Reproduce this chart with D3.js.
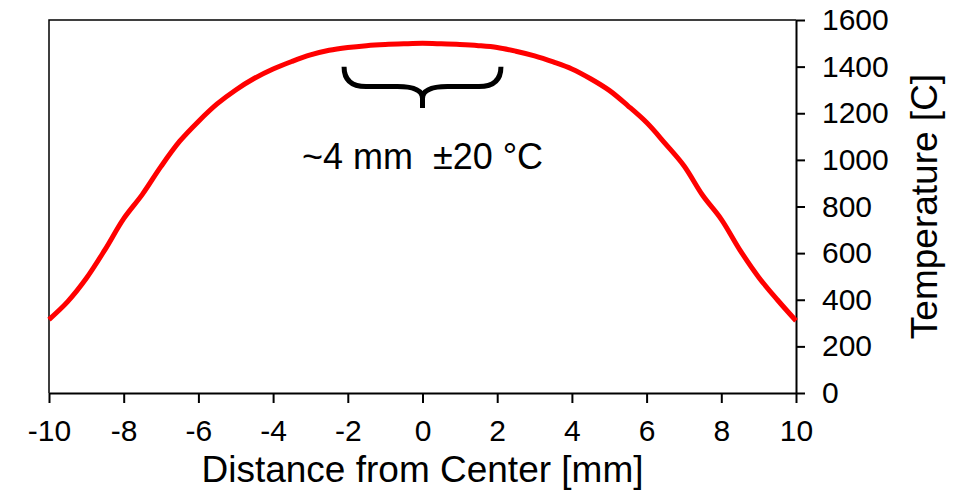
<!DOCTYPE html>
<html>
<head>
<meta charset="utf-8">
<script src="https://cdn.jsdelivr.net/npm/d3@7"></script>
<style>
  body { margin: 0; background: #fff; }
  svg text { font-family: "Liberation Sans", Arial, sans-serif; fill: #000; }
</style>
</head>
<body>
<div id="chart"></div>
<script>
// distance from center (mm) and temperature (C)
var distance = [-10, -9.5, -9, -8.5, -8, -7.5, -7, -6.5, -6, -5.5, -5, -4.5, -4, -3.5, -3, -2.5, -2, -1.5, -1, -0.5,
                0, 0.5, 1, 1.5, 2, 2.5, 3, 3.5, 4, 4.5, 5, 5.5, 6, 6.5, 7, 7.5, 8, 8.5, 9, 9.5, 10];
var temperature = [315, 392, 492, 615, 748, 852, 972, 1080, 1165, 1240, 1300, 1350, 1390, 1422, 1450, 1470, 1482, 1490, 1495, 1498,
                   1500, 1498, 1495, 1490, 1482, 1466, 1446, 1420, 1390, 1348, 1298, 1232, 1160, 1070, 975, 848, 745, 613, 497, 400, 310];

var xTicks = [-10, -8, -6, -4, -2, 0, 2, 4, 6, 8, 10];
var yTicks = [0, 200, 400, 600, 800, 1000, 1200, 1400, 1600];

// annotation: brace over the flat top, and its label
var braceSpan = [-2.1, 2.1];
var braceLevels = [1400, 1315, 1222];   // ends, bar, tip
var noteText = "~4 mm  \u00b120 \u00b0C";
var noteAt = [0, 961];

var width = 967, height = 500;
var plotLeft = 49, plotRight = 796, plotTop = 20, plotBottom = 393;

var svg = d3.select("#chart").append("svg")
    .attr("width", width)
    .attr("height", height);

var x = d3.scaleLinear().domain([-10, 10]).range([plotLeft, plotRight]);
var y = d3.scaleLinear().domain([0, 1600]).range([plotBottom, plotTop]);

// thin frame on top and left
svg.append("path")
    .attr("d", "M" + plotLeft + "," + plotBottom + "V" + plotTop + "H" + plotRight)
    .attr("fill", "none")
    .attr("stroke", "#000")
    .attr("stroke-width", 1.5);

// x axis
var gx = svg.append("g")
    .attr("transform", "translate(0," + plotBottom + ")")
    .call(d3.axisBottom(x).tickValues(xTicks).tickSizeInner(10).tickSizeOuter(0).tickPadding(17)
        .tickFormat(function(d) { return d < 0 ? "-" + Math.abs(d) : d; }));
gx.attr("font-size", null).attr("font-family", null);
gx.select(".domain").attr("stroke-width", 2);
gx.selectAll(".tick line").attr("stroke-width", 2);
gx.selectAll(".tick text").style("font-size", "30px").attr("dy", "0.71em");

// y axis on the right
var gy = svg.append("g")
    .attr("transform", "translate(" + plotRight + ",0)")
    .call(d3.axisRight(y).tickValues(yTicks).tickSizeInner(9).tickSizeOuter(0).tickPadding(17)
        .tickFormat(d3.format("d")));
gy.attr("font-size", null).attr("font-family", null);
gy.select(".domain").attr("stroke-width", 2);
gy.selectAll(".tick line").attr("stroke-width", 2);
gy.selectAll(".tick text").style("font-size", "30px");

// axis titles
svg.append("text")
    .attr("x", (plotLeft + plotRight) / 2)
    .attr("y", 482)
    .attr("text-anchor", "middle")
    .style("font-size", "37px")
    .text("Distance from Center [mm]");

svg.append("text")
    .attr("transform", "translate(937," + ((plotTop + plotBottom) / 2) + ") rotate(-90)")
    .attr("text-anchor", "middle")
    .style("font-size", "37px")
    .text("Temperature [C]");

// the temperature profile
var line = d3.line()
    .x(function(d, i) { return x(distance[i]); })
    .y(function(d) { return y(d); })
    .curve(d3.curveCatmullRom);

svg.append("path")
    .datum(temperature)
    .attr("d", line)
    .attr("fill", "none")
    .attr("stroke", "#ff0000")
    .attr("stroke-width", 5)
    .attr("stroke-linejoin", "round");

// curly brace
var bx0 = x(braceSpan[0]), bx1 = x(braceSpan[1]), bc = x(0);
var yEnd = y(braceLevels[0]), yBar = y(braceLevels[1]), yTip = y(braceLevels[2]);
var r = 22, rc = 25, yJoin = yBar + 12;
var brace = "M" + bx0 + "," + yEnd +
    "Q" + bx0 + "," + yBar + " " + (bx0 + r) + "," + yBar +
    "L" + (bc - rc) + "," + yBar +
    "Q" + bc + "," + yBar + " " + bc + "," + yJoin +
    "L" + bc + "," + yTip +
    "M" + bx1 + "," + yEnd +
    "Q" + bx1 + "," + yBar + " " + (bx1 - r) + "," + yBar +
    "L" + (bc + rc) + "," + yBar +
    "Q" + bc + "," + yBar + " " + bc + "," + yJoin;
svg.append("path")
    .attr("d", brace)
    .attr("fill", "none")
    .attr("stroke", "#000")
    .attr("stroke-width", 5);

svg.append("text")
    .attr("x", x(noteAt[0]))
    .attr("y", y(noteAt[1]))
    .attr("text-anchor", "middle")
    .style("font-size", "36px")
    .style("white-space", "pre")
    .text(noteText);
</script>
</body>
</html>
